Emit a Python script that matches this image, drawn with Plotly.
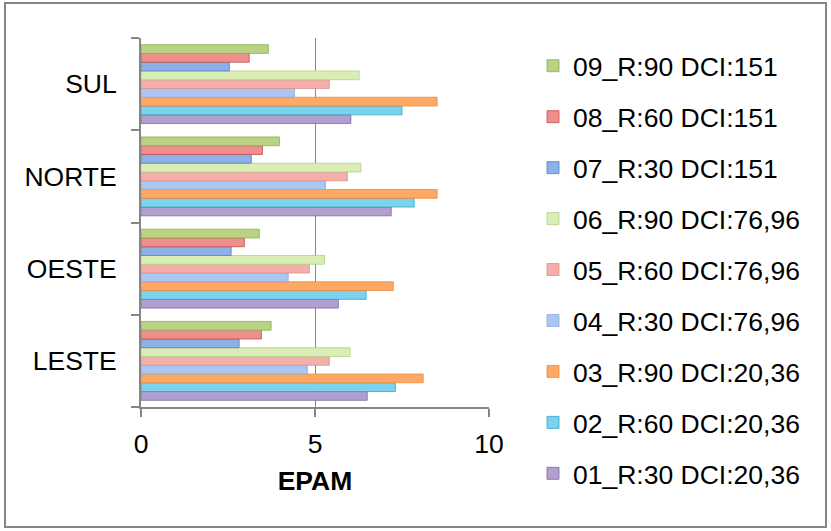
import plotly.graph_objects as go

# Regions on the category axis (bottom to top)
regions = ["LESTE", "OESTE", "NORTE", "SUL"]

# EPAM per scenario, values ordered as in `regions`
series_names = [
    "01_R:30 DCI:20,36",
    "02_R:60 DCI:20,36",
    "03_R:90 DCI:20,36",
    "04_R:30 DCI:76,96",
    "05_R:60 DCI:76,96",
    "06_R:90 DCI:76,96",
    "07_R:30 DCI:151",
    "08_R:60 DCI:151",
    "09_R:90 DCI:151",
]
s01 = [6.50, 5.67, 7.19, 6.03]
s02 = [7.31, 6.47, 7.85, 7.50]
s03 = [8.11, 7.25, 8.51, 8.51]
s04 = [4.78, 4.23, 5.30, 4.41]
s05 = [5.41, 4.84, 5.93, 5.41]
s06 = [6.01, 5.27, 6.32, 6.27]
s07 = [2.82, 2.59, 3.17, 2.54]
s08 = [3.46, 2.97, 3.49, 3.11]
s09 = [3.74, 3.40, 3.98, 3.66]
series_values = [s01, s02, s03, s04, s05, s06, s07, s08, s09]

x_ticks = [0, 5, 10]

fill_colors = ["#B19FD0", "#7DD2EE", "#FDA864", "#AAC6F2", "#F4AEAB",
               "#D9EDB5", "#8DB0E8", "#EE8F8B", "#B7D383"]
edge_colors = ["#7F64A2", "#31A5C4", "#F08A3A", "#8EAADB", "#E08F8C",
               "#B5CF86", "#4F81BD", "#C0504D", "#8EB04F"]

FONT = "Liberation Sans, Arial, sans-serif"
FS = 26.5
GRAY = "#868686"

fig = go.Figure()
n = len(series_names)
for i, (name, vals, fc, ec) in enumerate(zip(series_names, series_values, fill_colors, edge_colors)):
    fig.add_trace(go.Bar(
        y=regions, x=vals, name=name, orientation="h",
        legendgroup=name, legendrank=n - i,
        marker=dict(color=fc, line=dict(color=ec, width=0.8)),
    ))

W, H = 831, 531
L, R, T, B = 141, 342, 38, 124
pw, ph = W - L - R, H - T - B

fig.update_layout(
    width=W, height=H,
    margin=dict(l=L, r=R, t=T, b=B),
    paper_bgcolor="white", plot_bgcolor="white",
    barmode="group", bargap=0.145, bargroupgap=0,
    font=dict(family=FONT, size=FS, color="black"),
    legend=dict(
        traceorder="grouped", tracegroupgap=13.5,
        xref="container", yref="container",
        x=533 / W, xanchor="left", y=1 - 42 / H, yanchor="top",
        maxheight=500,
        font=dict(family=FONT, size=FS, color="black"),
        bgcolor="rgba(0,0,0,0)",
    ),
    xaxis=dict(
        range=[0, 10], tickvals=x_ticks, ticktext=[str(v) for v in x_ticks],
        showgrid=True, gridcolor=GRAY, gridwidth=1.3,
        zeroline=False, showline=True, linecolor=GRAY, linewidth=1.5,
        ticks="outside", ticklen=8, tickcolor=GRAY, tickwidth=1.5,
        ticklabelstandoff=4,
        title=dict(text="<b>EPAM</b>", standoff=14,
                   font=dict(family=FONT, size=FS, color="black")),
    ),
    yaxis=dict(
        categoryorder="array", categoryarray=regions,
        showline=True, linecolor=GRAY, linewidth=2,
        ticks="outside", ticklen=8, tickcolor=GRAY, tickwidth=1.5,
        tickson="boundaries", showgrid=False, zeroline=False,
        ticklabelstandoff=17,
    ),
    shapes=[dict(
        type="rect", xref="paper", yref="paper",
        x0=(5 - L) / pw, x1=(826 - L) / pw,
        y0=(H - B - 527) / ph, y1=(H - B - 3) / ph,
        line=dict(color=GRAY, width=2), fillcolor="rgba(0,0,0,0)",
        layer="below",
    )],
)

fig.write_html("out.html")
